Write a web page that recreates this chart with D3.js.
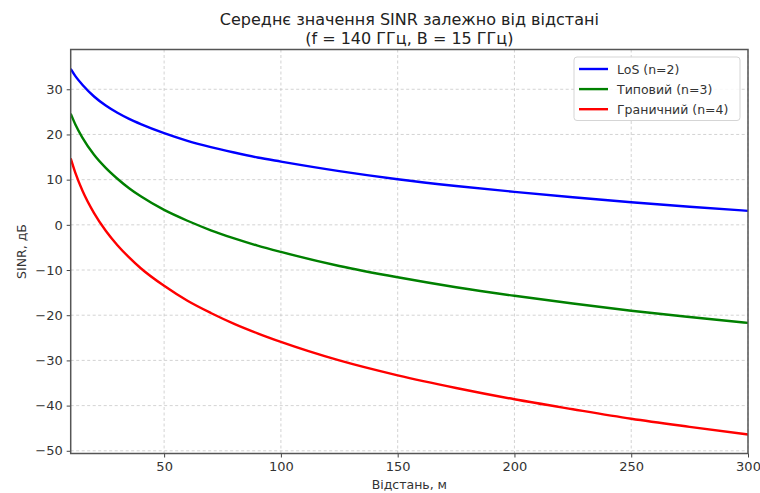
<!DOCTYPE html>
<html><head><meta charset="utf-8">
<script src="https://cdn.jsdelivr.net/npm/d3@7"></script>
<style>body{margin:0;background:#fff;} text{font-family:"DejaVu Sans",sans-serif;}</style>
</head><body>
<svg id="c" width="760" height="493"></svg>
<script>
const distances = [10,12,15,20,25,30,35,40,50,60,70,80,90,100,125,150,175,200,225,250,275,300];
const losValues = [34.5,32.9,31.0,28.4,26.4,24.8,23.45,22.3,20.3,18.6,17.2,16.0,14.9,14.0,11.9,10.1,8.6,7.3,6.1,5.0,4.0,3.1];
const typValues = [24.6,22.2,19.3,15.5,12.6,10.2,8.1,6.3,3.3,0.9,-1.2,-3.0,-4.6,-6.0,-9.1,-11.6,-13.8,-15.7,-17.4,-19.0,-20.4,-21.7];
const edgeValues = [14.7,11.5,7.6,2.6,-1.3,-4.5,-7.2,-9.6,-13.5,-16.8,-19.5,-21.9,-24.0,-25.9,-30.0,-33.3,-36.1,-38.6,-40.8,-42.9,-44.7,-46.4];
const seriesNames = ["LoS (n=2)","Типовий (n=3)","Граничний (n=4)"];
const seriesColors = ["#0000ff","#008000","#ff0000"];
const xTicks = [50,100,150,200,250,300];
const yTicks = [-50,-40,-30,-20,-10,0,10,20,30];
const titleLines = ["Середнє значення SINR залежно від відстані","(f = 140 ГГц, B = 15 ГГц)"];
const xLabel = "Відстань, м";
const yLabel = "SINR, дБ";

const svg = d3.select("#c");
const m = {l:70.7, r:748, t:49.5, b:453.5};
const x = d3.scaleLinear().domain([10,300]).range([m.l,m.r]);
const y = d3.scaleLinear().domain([-50.6,38.8]).range([m.b,m.t]);

// grid
const g = svg.append("g");
g.selectAll(".gx").data(xTicks).enter().append("line")
 .attr("x1",d=>x(d)).attr("x2",d=>x(d)).attr("y1",m.t).attr("y2",m.b)
 .attr("stroke","#c8c8c8").attr("stroke-width",0.8).attr("stroke-dasharray","3,2.5");
g.selectAll(".gy").data(yTicks).enter().append("line")
 .attr("y1",d=>y(d)).attr("y2",d=>y(d)).attr("x1",m.l).attr("x2",m.r)
 .attr("stroke","#c8c8c8").attr("stroke-width",0.8).attr("stroke-dasharray","3,2.5");

// lines
const all = [losValues,typValues,edgeValues];
const line = d3.line().x((d,i)=>x(distances[i])).y(d=>y(d)).curve(d3.curveMonotoneX);
svg.append("defs").append("clipPath").attr("id","cp").append("rect")
 .attr("x",m.l).attr("y",m.t).attr("width",m.r-m.l).attr("height",m.b-m.t);
all.forEach((vals,k)=>{
  svg.append("path").datum(vals).attr("d",line).attr("fill","none")
   .attr("stroke",seriesColors[k]).attr("stroke-width",2.4).attr("clip-path","url(#cp)");
});

// axes
const xa = svg.append("g").attr("transform",`translate(0,${m.b})`)
 .call(d3.axisBottom(x).tickValues(xTicks).tickSize(4).tickPadding(4).tickFormat(d3.format("d")));
const ya = svg.append("g").attr("transform",`translate(${m.l},0)`)
 .call(d3.axisLeft(y).tickValues(yTicks).tickSize(4).tickPadding(4).tickFormat(d=>d<0?"\u2212"+Math.abs(d):d));
[xa,ya].forEach(a=>{
  a.select(".domain").remove();
  a.selectAll("line").attr("stroke","#444").attr("stroke-width",1);
  a.selectAll("text").attr("fill","#333").style("font-size","13px").style("font-family","DejaVu Sans");
});
svg.append("rect").attr("x",m.l).attr("y",m.t).attr("width",m.r-m.l).attr("height",m.b-m.t)
 .attr("fill","none").attr("stroke","#555").attr("stroke-width",1.5);

// titles
titleLines.forEach((t,i)=>{
  svg.append("text").attr("x",(m.l+m.r)/2).attr("y",25+i*18.5).attr("text-anchor","middle")
   .attr("fill","#222").style("font-size","16px").text(t);
});
svg.append("text").attr("x",(m.l+m.r)/2).attr("y",489).attr("text-anchor","middle")
 .attr("fill","#333").style("font-size","12.5px").text(xLabel);
svg.append("text").attr("transform",`translate(26,${(m.t+m.b)/2}) rotate(-90)`).attr("text-anchor","middle")
 .attr("fill","#333").style("font-size","12.5px").text(yLabel);

// legend
const lg = svg.append("g");
lg.append("rect").attr("x",574).attr("y",57).attr("width",166).attr("height",63.5).attr("rx",3)
 .attr("fill","#fff").attr("fill-opacity",0.85).attr("stroke","#d5d5d5").attr("stroke-width",1);
seriesNames.forEach((n,i)=>{
  const yy = 69+i*20.1;
  lg.append("line").attr("x1",579).attr("x2",608).attr("y1",yy).attr("y2",yy)
   .attr("stroke",seriesColors[i]).attr("stroke-width",2.4);
  lg.append("text").attr("x",617).attr("y",yy+4.5).attr("fill","#333").style("font-size","12.5px").text(n);
});
</script>
</body></html>
